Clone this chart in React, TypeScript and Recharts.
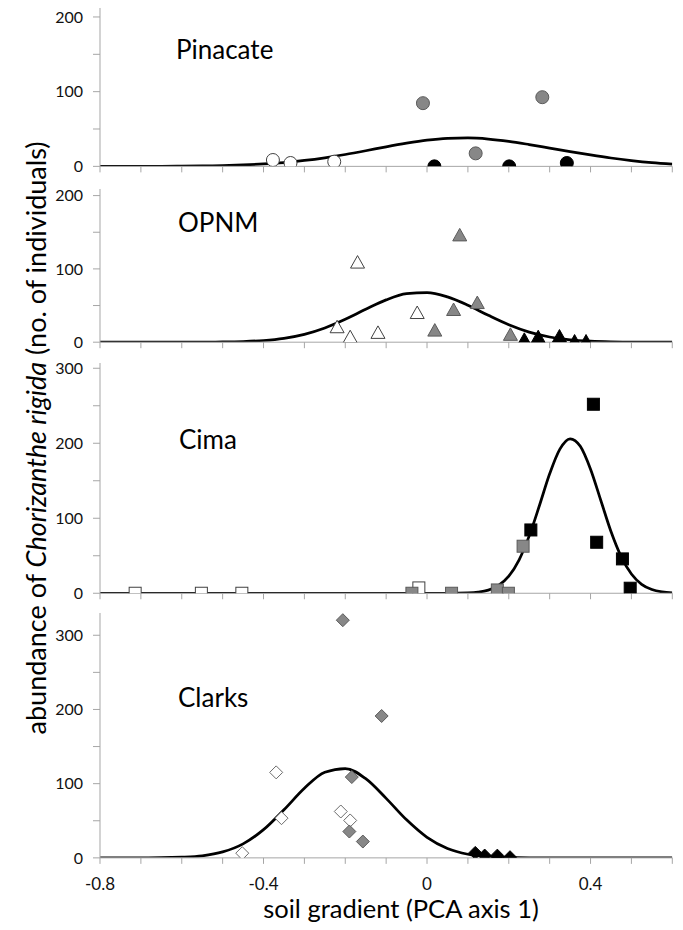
import React from "react";
import { ComposedChart, Line, Scatter, XAxis, YAxis } from "recharts";

const FONT = "Lato, 'Noto Sans', sans-serif";

// shared x axis
const xTicks = [-0.8, -0.7, -0.6, -0.5, -0.4, -0.3, -0.2, -0.1, 0, 0.1, 0.2, 0.3, 0.4, 0.5, 0.6];
const xLabels = [-0.8, -0.4, 0, 0.4];

// fitted curves
const curveX = [
  -0.8, -0.75, -0.7, -0.65, -0.6, -0.55, -0.5, -0.45, -0.4, -0.35, -0.3, -0.25, -0.2, -0.15, -0.1,
  -0.05, 0, 0.05, 0.1, 0.15, 0.2, 0.25, 0.3, 0.35, 0.4, 0.45, 0.5, 0.55, 0.6,
];
const pinacateCurve = [
  0, 0, 0.1, 0.1, 0.3, 0.6, 1.0, 1.9, 3.2, 5.1, 7.9, 11.5, 15.9, 20.9, 26.2,
  31.0, 35.0, 37.4, 38.0, 36.6, 33.5, 29.2, 24.5, 19.8, 15.3, 11.2, 7.8, 5.0, 3.0,
];
const opnmCurve = [
  0, 0, 0, 0, 0, 0.1, 0.3, 0.9, 2.3, 5.3, 10.7, 19.4, 31.2, 44.9, 57.7,
  66.1, 67.7, 61.8, 50.4, 36.6, 23.8, 13.8, 7.1, 3.3, 1.4, 0.5, 0.2, 0.1, 0,
];
const clarksCurve = [
  0, 0, 0.1, 0.2, 0.9, 2.8, 8.0, 18.9, 38.0, 64.8, 93.8, 115.4, 120.4, 106.7, 80.2,
  51.2, 27.7, 12.7, 4.9, 1.6, 0.5, 0.1, 0, 0, 0, 0, 0, 0, 0,
];
const cimaX = [
  -0.8, -0.6, -0.4, -0.2, 0, 0.05, 0.1, 0.125, 0.15, 0.175, 0.2, 0.225, 0.25, 0.275,
  0.3, 0.325, 0.35, 0.375, 0.4, 0.425, 0.45, 0.475, 0.5, 0.525, 0.55, 0.575, 0.6,
];
const cimaCurve = [
  0, 0, 0, 0, 0, 0, 0.5, 1.5, 4.2, 10.5, 22.8, 44.3, 76.5, 117,
  159.3, 192.2, 206, 195.9, 165.4, 124, 82.3, 48.7, 25.6, 11.9, 4.9, 1.8, 0.6,
];

// Pinacate (circles)
const pinWhiteX = [-0.377, -0.334, -0.227];
const pinWhiteY = [8.5, 4.5, 6.3];
const pinGrayX = [-0.01, 0.119, 0.282];
const pinGrayY = [84.6, 17.4, 92.6];
const pinBlackX = [0.018, 0.201, 0.342];
const pinBlackY = [0, 0, 4.5];

// OPNM (triangles)
const opnmWhiteX = [-0.22, -0.188, -0.17, -0.12, -0.024];
const opnmWhiteY = [20.4, 6.8, 108.6, 12.7, 39.8];
const opnmGrayX = [0.019, 0.065, 0.08, 0.123, 0.204];
const opnmGrayY = [15.8, 43.9, 145.7, 53.4, 10];
const opnmBlackX = [0.238, 0.272, 0.324, 0.361, 0.389];
const opnmBlackY = [3.2, 6.8, 7.7, 0.9, 0.9];

// Cima (squares)
const cimaWhiteX = [-0.714, -0.552, -0.453, -0.02];
const cimaWhiteY = [0, 0, 0, 7.1];
const cimaGrayX = [-0.037, 0.06, 0.172, 0.199, 0.235];
const cimaGrayY = [0, 0, 4.4, 0, 62.7];
const cimaBlackX = [0.254, 0.407, 0.415, 0.478, 0.497];
const cimaBlackY = [84.4, 252, 68, 45.8, 6.7];

// Clarks (diamonds)
const clarksWhiteX = [-0.452, -0.369, -0.356, -0.211, -0.188];
const clarksWhiteY = [6.3, 115.2, 53.5, 62.5, 50.4];
const clarksGrayX = [-0.206, -0.184, -0.111, -0.19, -0.157];
const clarksGrayY = [320.3, 108.9, 191.2, 35.5, 22];
const clarksBlackX = [0.118, 0.141, 0.172, 0.172, 0.203];
const clarksBlackY = [6.7, 3.1, 0.9, 3, 0.9];

const zip = (xs: number[], ys: number[]) => xs.map((x, i) => ({ x, y: ys[i] }));

const TONES: Record<string, { fill: string; stroke: string }> = {
  white: { fill: "#ffffff", stroke: "#404040" },
  gray: { fill: "#878787", stroke: "#5a5a5a" },
  black: { fill: "#000000", stroke: "#000000" },
};

const drawMarker = (kind: string, tone: string, cx: number, cy: number) => {
  const { fill, stroke } = TONES[tone];
  if (cx == null || cy == null) return <g />;
  if (kind === "circle") return <circle cx={cx} cy={cy} r={6.5} fill={fill} stroke={stroke} strokeWidth={1} />;
  if (kind === "triangle") {
    const p = `${cx},${cy - 7} ${cx + 7},${cy + 5.5} ${cx - 7},${cy + 5.5}`;
    return <polygon points={p} fill={fill} stroke={stroke} strokeWidth={1} />;
  }
  if (kind === "square")
    return <rect x={cx - 6} y={cy - 6} width={12} height={12} fill={fill} stroke={stroke} strokeWidth={1} />;
  const p = `${cx},${cy - 6.5} ${cx + 6.5},${cy} ${cx},${cy + 6.5} ${cx - 6.5},${cy}`;
  return <polygon points={p} fill={fill} stroke={tone === "white" ? "#6a6a6a" : stroke} strokeWidth={1} />;
};

const panels = [
  {
    name: "Pinacate", bottom: 166.7, yMax: 212, per100: 74.7, yTicks: [0, 50, 100, 150, 200],
    curve: zip(curveX, pinacateCurve), marker: "circle",
    groups: [["white", zip(pinWhiteX, pinWhiteY)], ["gray", zip(pinGrayX, pinGrayY)], ["black", zip(pinBlackX, pinBlackY)]],
    label: { x: 176, y: 59 },
  },
  {
    name: "OPNM", bottom: 341.7, yMax: 209, per100: 73.3, yTicks: [0, 50, 100, 150, 200],
    curve: zip(curveX, opnmCurve), marker: "triangle",
    groups: [["white", zip(opnmWhiteX, opnmWhiteY)], ["gray", zip(opnmGrayX, opnmGrayY)], ["black", zip(opnmBlackX, opnmBlackY)]],
    label: { x: 178, y: 232 },
  },
  {
    name: "Cima", bottom: 593.3, yMax: 307, per100: 75, yTicks: [0, 50, 100, 150, 200, 250, 300],
    curve: zip(cimaX, cimaCurve), marker: "square",
    groups: [["white", zip(cimaWhiteX, cimaWhiteY)], ["gray", zip(cimaGrayX, cimaGrayY)], ["black", zip(cimaBlackX, cimaBlackY)]],
    label: { x: 179, y: 449 },
  },
  {
    name: "Clarks", bottom: 857.5, yMax: 330, per100: 74.2, yTicks: [0, 50, 100, 150, 200, 250, 300],
    curve: zip(curveX, clarksCurve), marker: "diamond",
    groups: [["white", zip(clarksWhiteX, clarksWhiteY)], ["gray", zip(clarksGrayX, clarksGrayY)], ["black", zip(clarksBlackX, clarksBlackY)]],
    label: { x: 178, y: 707 },
    showX: true,
  },
];

const W = 683;
const PLOT_LEFT = 100;
const PLOT_RIGHT = 672.3;
const AXIS_GRAY = "#a6a6a6";

const Panel = ({ p }: { p: any }) => {
  const plotH = (p.yMax * p.per100) / 100;
  const top = p.bottom - plotH;
  const mTop = 4;
  const axisH = p.showX ? 40 : 10;
  const h = mTop + plotH + axisH;
  return (
    <div style={{ position: "absolute", left: 0, top: top - mTop }}>
      <ComposedChart width={W} height={h} margin={{ top: mTop, right: W - PLOT_RIGHT, bottom: 0, left: 0 }}>
        <XAxis
          type="number"
          dataKey="x"
          domain={[-0.8, 0.6]}
          ticks={xTicks}
          interval={0}
          allowDataOverflow
          height={axisH}
          axisLine={{ stroke: AXIS_GRAY }}
          tickLine={{ stroke: AXIS_GRAY }}
          tickSize={6}
          tickMargin={14}
          tick={{ fontSize: 17, fill: "#111", fontFamily: FONT }}
          tickFormatter={(v: number) =>
            p.showX && xLabels.includes(Math.round(v * 10) / 10) ? String(Math.round(v * 10) / 10) : ""
          }
        />
        <YAxis
          type="number"
          dataKey="y"
          domain={[0, p.yMax]}
          ticks={p.yTicks}
          interval={0}
          allowDataOverflow
          width={PLOT_LEFT}
          axisLine={{ stroke: AXIS_GRAY }}
          tickLine={{ stroke: AXIS_GRAY }}
          tickSize={7}
          tickMargin={10}
          tick={{ fontSize: 16, fill: "#111", fontFamily: FONT }}
          tickFormatter={(v: number) => (v % 100 === 0 ? String(v) : "")}
        />
        <Line
          data={p.curve}
          dataKey="y"
          type="monotone"
          stroke="#000"
          strokeWidth={2.75}
          dot={false}
          activeDot={false}
          isAnimationActive={false}
        />
        {p.groups.map(([tone, pts]: [string, any[]]) => (
          <Scatter
            key={tone}
            data={pts}
            dataKey="y"
            isAnimationActive={false}
            shape={(s: any) => drawMarker(p.marker, tone, s.cx, s.cy)}
          />
        ))}
      </ComposedChart>
    </div>
  );
};

export default function App() {
  return (
    <div style={{ position: "absolute", left: 0, top: 0, width: W, height: 930, background: "#fff", fontFamily: FONT }}>
      {panels.map((p) => (
        <Panel key={p.name} p={p} />
      ))}
      <svg width={W} height={930} style={{ position: "absolute", left: 0, top: 0, pointerEvents: "none" }}>
        {panels.map((p) => (
          <text key={p.name} x={p.label.x} y={p.label.y} fontSize={26} fontFamily={FONT} fill="#000">
            {p.name}
          </text>
        ))}
        <text x={401} y={918} textAnchor="middle" fontSize={25.5} fontFamily={FONT} fill="#000">
          soil gradient (PCA axis 1)
        </text>
        <text transform="translate(46,438) rotate(-90)" textAnchor="middle" fontSize={27} fontFamily={FONT} fill="#000">
          abundance of <tspan fontStyle="italic">Chorizanthe rigida</tspan> (no. of individuals)
        </text>
      </svg>
    </div>
  );
}
